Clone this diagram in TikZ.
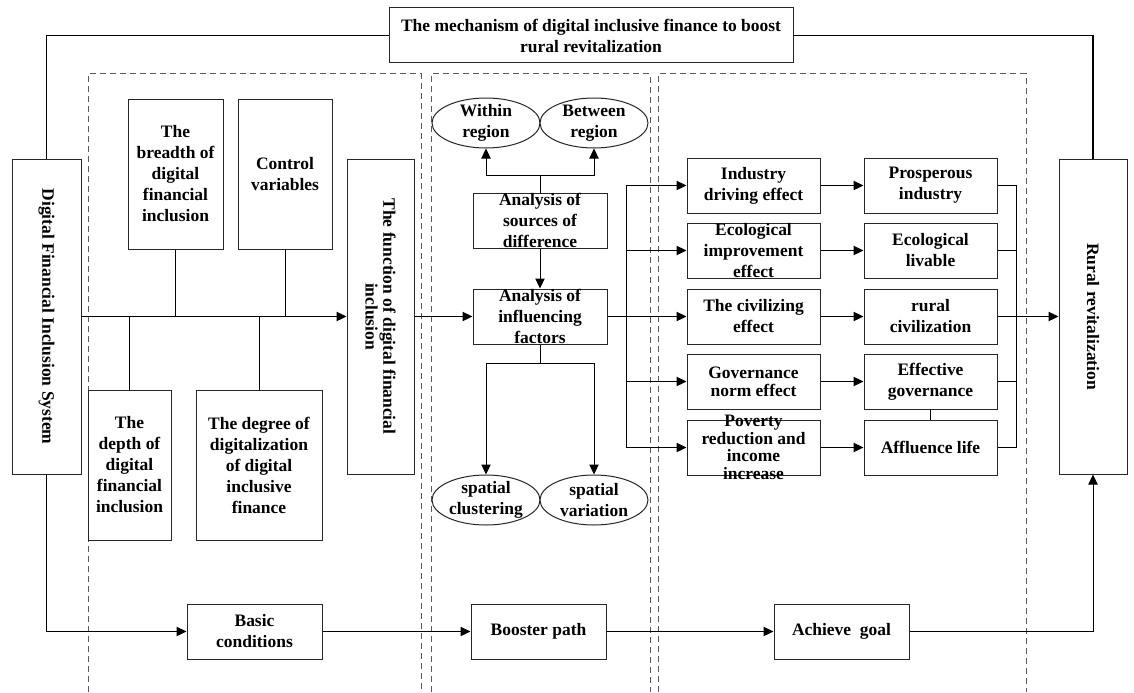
\documentclass[tikz,border=0pt]{standalone}
\usepackage{fontspec}
\setmainfont{Liberation Serif}
\usetikzlibrary{arrows.meta,shapes.geometric,calc}
\tikzset{
  box/.style={draw=black!85, line width=0.75pt, fill=white, inner sep=0pt},
  sz/.style 2 args={minimum width=#1*0.75pt, minimum height=#2*0.75pt},
  oval/.style={ellipse, draw=black!85, line width=0.75pt, fill=white, inner sep=0pt},
  lbl/.style={align=center, inner sep=0pt, font=\bfseries\fontsize{13.1}{15.75}\selectfont},
  tight/.style={font=\bfseries\fontsize{13.1}{13.2}\selectfont},
  conn/.style={line width=0.75pt},
  arr/.style={conn, -{Triangle[length=7.5pt,width=7pt]}},
  frame/.style={line width=1pt},
  zone/.style={draw=black!65, line width=0.75pt, dash pattern=on 4.5pt off 3pt}
}
\begin{document}
\begin{tikzpicture}[x=0.75pt,y=-0.75pt]
\useasboundingbox (0,0) rectangle (1134,692);

% dashed zones
\draw[zone] (88,692) -- (88,74) -- (421,74) -- (421,692);
\draw[zone] (431,692) -- (431,74) -- (650,74) -- (650,692);
\draw[zone] (658,692) -- (658,74) -- (1026,74) -- (1026,692);

% title
\node[box,sz={404}{55}] (title) at (591,35.5) {};
\node[lbl] (title-t) at (title) {The mechanism of digital inclusive finance to boost\\rural revitalization};

% left part
\node[box,sz={69}{315}] (dfis) at (46.5,316.5) {};
\node[lbl,rotate=-90] (dfis-t) at (dfis) {Digital Financial Inclusion System};
\node[box,sz={95}{150}] (breadth) at (175.5,174) {};
\node[lbl] (breadth-t) at (breadth) {The\\breadth of\\digital\\financial\\inclusion};
\node[box,sz={94}{150}] (control) at (285,174) {};
\node[lbl] (control-t) at (control) {Control\\variables};
\node[box,sz={83}{150}] (depth) at (129.5,465) {};
\node[lbl] (depth-t) at (depth) {The\\depth of\\digital\\financial\\inclusion};
\node[box,sz={126}{150}] (degree) at (259,465) {};
\node[lbl] (degree-t) at (degree) {The degree of\\digitalization\\of digital\\inclusive\\finance};
\node[box,sz={67}{315}] (func) at (380.5,316.5) {};
\node[lbl,tight,rotate=-90] (func-t) at (func) {The function of digital financial\\inclusion};
\node[box,sz={135}{55}] (basic) at (254.5,631.5) {};
\node[lbl] (basic-t) at (basic) {Basic\\conditions};

% middle part
\node[oval,minimum width=81pt,minimum height=37.5pt] (within) at (486,123) {};
\node[lbl] (within-t) at (within) {Within\\region};
\node[oval,minimum width=81pt,minimum height=37.5pt] (between) at (594,123) {};
\node[lbl] (between-t) at (between) {Between\\region};
\node[box,sz={134}{55}] (src) at (540,220.5) {};
\node[lbl] (src-t) at (src) {Analysis of\\sources of\\difference};
\node[box,sz={134}{55}] (inf) at (540,316.5) {};
\node[lbl] (inf-t) at (inf) {Analysis of\\influencing\\factors};
\node[oval,minimum width=81pt,minimum height=37.5pt] (clus) at (486,500) {};
\node[lbl] (clus-t) at (clus) {spatial\\clustering};
\node[oval,minimum width=81pt,minimum height=37.5pt] (var) at (594,500) {};
\node[lbl] (var-t) at (var) {spatial\\variation};
\node[box,sz={135}{55}] (booster) at (538.5,631.5) {};
\node[lbl] (booster-t) at (booster) {Booster path};

% right part
\node[box,sz={133}{55}] (ind) at (753.5,185.5) {};
\node[lbl] (ind-t) at (ind) {Industry\\driving effect};
\node[box,sz={133}{55}] (eco) at (753.5,250.5) {};
\node[lbl] (eco-t) at (eco) {Ecological\\improvement\\effect};
\node[box,sz={133}{55}] (civ) at (753.5,316.5) {};
\node[lbl] (civ-t) at (civ) {The civilizing\\effect};
\node[box,sz={133}{55}] (gov) at (753.5,381.5) {};
\node[lbl,tight] (gov-t) at (gov) {Governance\\norm effect};
\node[box,sz={133}{55}] (pov) at (753.5,447.5) {};
\node[lbl,tight] (pov-t) at (pov) {Poverty\\reduction and\\income\\increase};

\node[box,sz={133}{55}] (pros) at (930.5,185.5) {};
\node[lbl] (pros-t) at (pros) {Prosperous\\industry};
\node[box,sz={133}{55}] (liv) at (930.5,250.5) {};
\node[lbl] (liv-t) at (liv) {Ecological\\livable};
\node[box,sz={133}{55}] (rciv) at (930.5,316.5) {};
\node[lbl] (rciv-t) at (rciv) {rural\\civilization};
\node[box,sz={133}{55}] (egov) at (930.5,381.5) {};
\node[lbl] (egov-t) at (egov) {Effective\\governance};
\node[box,sz={133}{55}] (aff) at (930.5,447.5) {};
\node[lbl] (aff-t) at (aff) {Affluence life};

\node[box,sz={68}{315}] (rural) at (1093,316.5) {};
\node[lbl,rotate=-90] (rural-t) at (rural) {Rural revitalization};
\node[box,sz={135}{55}] (achieve) at (841.5,631.5) {};
\node[lbl] (achieve-t) at (achieve) {Achieve\ \ goal};

% outer frame
\draw[frame] (dfis.north) |- (title.west);
\draw[frame] (title.east) -| (rural.north);

% left connectors
\draw[arr] (dfis.east) -- (func.west);
\draw[conn] (breadth.south) -- (breadth.south |- dfis.east);
\draw[conn] (control.south) -- (control.south |- dfis.east);
\draw[conn] (depth.north) -- (depth.north |- dfis.east);
\draw[conn] (degree.north) -- (degree.north |- dfis.east);
\draw[arr] (func.east) -- (inf.west);

% middle connectors
\coordinate (sj) at (540,175);
\draw[conn] (src.north) -- (sj);
\draw[arr] (sj) -| (within.south);
\draw[arr] (sj) -| (between.south);
\draw[arr] (src.south) -- (inf.north);
\coordinate (ij) at (540,363);
\draw[conn] (inf.south) -- (ij);
\draw[arr] (ij) -| (clus.north);
\draw[arr] (ij) -| (var.north);

% right connectors
\coordinate (br) at (626,316.5);
\draw[conn] (inf.east) -- (br);
\draw[arr] (br) |- (ind.west);
\draw[arr] (br) |- (eco.west);
\draw[arr] (br) -- (civ.west);
\draw[arr] (br) |- (gov.west);
\draw[arr] (br) |- (pov.west);
\draw[arr] (ind.east) -- (pros.west);
\draw[arr] (eco.east) -- (liv.west);
\draw[arr] (civ.east) -- (rciv.west);
\draw[arr] (gov.east) -- (egov.west);
\draw[arr] (pov.east) -- (aff.west);
\coordinate (cl) at (1016,316.5);
\draw[conn] (pros.east) -| (cl);
\draw[conn] (liv.east) -| (cl);
\draw[conn] (egov.east) -| (cl);
\draw[conn] (aff.east) -| (cl);
\draw[arr] (rciv.east) -- (rural.west);
\draw[conn] (egov.south) -- (aff.north);

% bottom path
\draw[arr] (dfis.south) |- (basic.west);
\draw[arr] (basic.east) -- (booster.west);
\draw[arr] (booster.east) -- (achieve.west);
\draw[arr] (achieve.east) -| (rural.south);
\end{tikzpicture}
\end{document}
